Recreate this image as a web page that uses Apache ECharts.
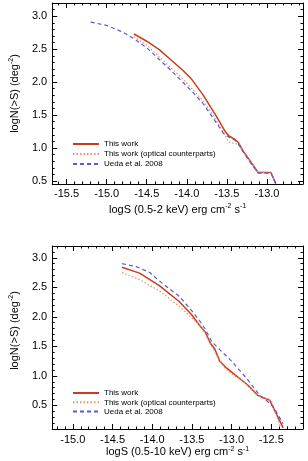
<!DOCTYPE html>
<html>
<head>
<meta charset="utf-8">
<script src="https://cdn.jsdelivr.net/npm/echarts@6/dist/echarts.min.js"></script>
<style>
  html, body { margin: 0; padding: 0; background: #fff; }
  #chart { width: 308px; height: 461px; }
</style>
</head>
<body>
<div id="chart"></div>
<script>
// 图例名称
const seriesNames = ['This work', 'This work (optical counterparts)', 'Ueda et al. 2008']

// 上图 0.5-2 keV：[logS, logN]
const softWork = [[-14.66, 2.73], [-14.50, 2.62], [-14.34, 2.49], [-14.20, 2.34], [-14.05, 2.18], [-13.95, 2.06],
  [-13.80, 1.81], [-13.64, 1.50], [-13.52, 1.25], [-13.48, 1.19], [-13.40, 1.13], [-13.36, 1.09], [-13.30, 0.96],
  [-13.23, 0.84], [-13.11, 0.63], [-12.95, 0.63], [-12.89, 0.46]]
const softOptical = [[-14.66, 2.69], [-14.50, 2.56], [-14.34, 2.38], [-14.20, 2.22], [-14.05, 2.05], [-13.92, 1.88],
  [-13.80, 1.72], [-13.66, 1.48], [-13.58, 1.31], [-13.52, 1.19], [-13.48, 1.09], [-13.40, 1.07], [-13.36, 1.06],
  [-13.30, 0.95], [-13.23, 0.83], [-13.11, 0.63], [-12.95, 0.63], [-12.89, 0.46]]
const softUeda = [[-15.20, 2.91], [-15.00, 2.86], [-14.80, 2.76], [-14.66, 2.66], [-14.50, 2.52], [-14.34, 2.34],
  [-14.20, 2.18], [-14.05, 2.00], [-13.92, 1.84], [-13.80, 1.68], [-13.64, 1.40], [-13.54, 1.22], [-13.48, 1.17],
  [-13.40, 1.12], [-13.36, 1.07], [-13.30, 0.95], [-13.23, 0.82], [-13.11, 0.62], [-12.95, 0.62], [-12.89, 0.46]]

// 下图 0.5-10 keV
const hardWork = [[-14.38, 2.84], [-14.16, 2.74], [-13.91, 2.53], [-13.66, 2.26], [-13.50, 2.03], [-13.40, 1.85],
  [-13.33, 1.74], [-13.27, 1.56], [-13.21, 1.45], [-13.15, 1.25], [-13.06, 1.13], [-12.96, 1.02], [-12.80, 0.85],
  [-12.67, 0.67], [-12.60, 0.63], [-12.52, 0.59], [-12.35, 0.12]]
const hardOptical = [[-14.38, 2.75], [-14.16, 2.63], [-13.91, 2.44], [-13.66, 2.18], [-13.50, 1.98], [-13.37, 1.82],
  [-13.30, 1.62], [-13.21, 1.40], [-13.13, 1.22], [-13.08, 1.12], [-12.96, 1.00], [-12.88, 0.94], [-12.67, 0.66],
  [-12.55, 0.61], [-12.50, 0.58], [-12.38, 0.12]]
const hardUeda = [[-14.38, 2.90], [-14.20, 2.85], [-14.03, 2.75], [-13.91, 2.61], [-13.78, 2.47], [-13.66, 2.35],
  [-13.50, 2.10], [-13.40, 1.93], [-13.33, 1.79], [-13.25, 1.58], [-13.13, 1.42], [-13.00, 1.25], [-12.80, 0.94],
  [-12.65, 0.68], [-12.55, 0.57], [-12.47, 0.47], [-12.35, 0.19]]

// 刻度
const softXMajor = [-15.5, -15.0, -14.5, -14.0, -13.5, -13.0]
const hardXMajor = [-15.0, -14.5, -14.0, -13.5, -13.0, -12.5]
const softYMajor = [0.5, 1.0, 1.5, 2.0, 2.5, 3.0]
const hardYMajor = [0.5, 1.0, 1.5, 2.0, 2.5, 3.0]

const FONT = '"Liberation Sans", Arial, Helvetica, sans-serif'
const colors = ['#c83c22', '#f0906a', '#5a5ad8']

// 主刻度之间每 0.1 一个次刻度
function minorOf(min, max) {
  const out = []
  for (let i = Math.ceil(min * 10); i <= Math.floor(max * 10); i++) {
    if (i % 5 !== 0) out.push(i / 10)
  }
  return out
}

// 四边框 + 内刻度：主轴(带标签) / 对侧主轴 / 两条次刻度轴
function boxAxes(gridIndex, min, max, majors, isX, name, nameGap, labelMargin, namePad) {
  const pos = isX ? ['bottom', 'top'] : ['left', 'right']
  const minors = minorOf(min, max)
  const base = {
    type: 'value', gridIndex, min, max,
    splitLine: { show: false },
    axisLine: { show: true, onZero: false, lineStyle: { color: '#000', width: 1 } }
  }
  return [
    {
      ...base, position: pos[0],
      axisTick: { show: true, inside: true, length: 5, customValues: majors, lineStyle: { color: '#000' } },
      axisLabel: {
        customValues: majors, formatter: v => v.toFixed(1), margin: labelMargin,
        color: '#000', fontSize: 11, fontFamily: FONT
      },
      name, nameLocation: 'middle', nameGap,
      nameTextStyle: {
        color: '#000', fontSize: 11, fontFamily: FONT, lineHeight: 13, padding: namePad,
        rich: { sup: { fontSize: 7, lineHeight: 7, verticalAlign: 'top', fontFamily: FONT, color: '#000' } }
      }
    },
    {
      ...base, position: pos[1],
      axisTick: { show: true, inside: true, length: 5, customValues: majors, lineStyle: { color: '#000' } },
      axisLabel: { show: false }
    },
    {
      ...base, position: pos[0], axisLine: { show: false },
      axisTick: { show: true, inside: true, length: 2.5, customValues: minors, lineStyle: { color: '#000' } },
      axisLabel: { show: false }
    },
    {
      ...base, position: pos[1], axisLine: { show: false },
      axisTick: { show: true, inside: true, length: 2.5, customValues: minors, lineStyle: { color: '#000' } },
      axisLabel: { show: false }
    }
  ]
}

function lineSeries(name, data, idx, type, width) {
  const color = colors[seriesNames.indexOf(name)]
  return {
    name, type: 'line', data,
    xAxisIndex: idx, yAxisIndex: idx,
    symbol: 'none', clip: true, silent: true,
    itemStyle: { color },
    lineStyle: { color, width, type }
  }
}

// 图例只画线，不画圆点
const legendBase = {
  orient: 'vertical', left: 72, padding: 0,
  itemWidth: 26, itemHeight: 8,
  itemStyle: { color: 'rgba(0,0,0,0)', borderWidth: 0 },
  textStyle: { color: '#000', fontSize: 8, fontFamily: FONT },
  data: seriesNames, selectedMode: false
}

const chart = echarts.init(document.getElementById('chart'))
chart.setOption({
  animation: false,
  grid: [
    { left: 47, top: 3, width: 256, height: 181, containLabel: false },
    { left: 47, top: 246, width: 256, height: 183, containLabel: false }
  ],
  xAxis: [
    ...boxAxes(0, -15.68, -12.55, softXMajor, true, 'logS (0.5-2 keV) erg cm{sup|-2} s{sup|-1}', 19, 4, 0),
    ...boxAxes(1, -15.26, -12.1, hardXMajor, true, 'logS (0.5-10 keV) erg cm{sup|-2} s{sup|-1}', 16, 5, 0)
  ],
  yAxis: [
    ...boxAxes(0, 0.455, 3.2, softYMajor, false, 'logN(>S) (deg{sup|-2})', 27, 5, 0),
    ...boxAxes(1, 0.1, 3.2, hardYMajor, false, 'logN(>S) (deg{sup|-2})', 27, 5, [0, 0, 0, 14])
  ],
  legend: [
    { ...legendBase, top: 140, itemGap: 2 },
    { ...legendBase, top: 389, itemGap: 1.3 }
  ],
  series: [
    lineSeries(seriesNames[0], softWork, 0, 'solid', 1.5),
    lineSeries(seriesNames[1], softOptical, 0, [1.5, 2], 1.2),
    lineSeries(seriesNames[2], softUeda, 0, [4, 3], 1.2),
    lineSeries(seriesNames[0], hardWork, 4, 'solid', 1.5),
    lineSeries(seriesNames[1], hardOptical, 4, [1.5, 2], 1.2),
    lineSeries(seriesNames[2], hardUeda, 4, [4, 3], 1.2)
  ]
})
</script>
</body>
</html>
